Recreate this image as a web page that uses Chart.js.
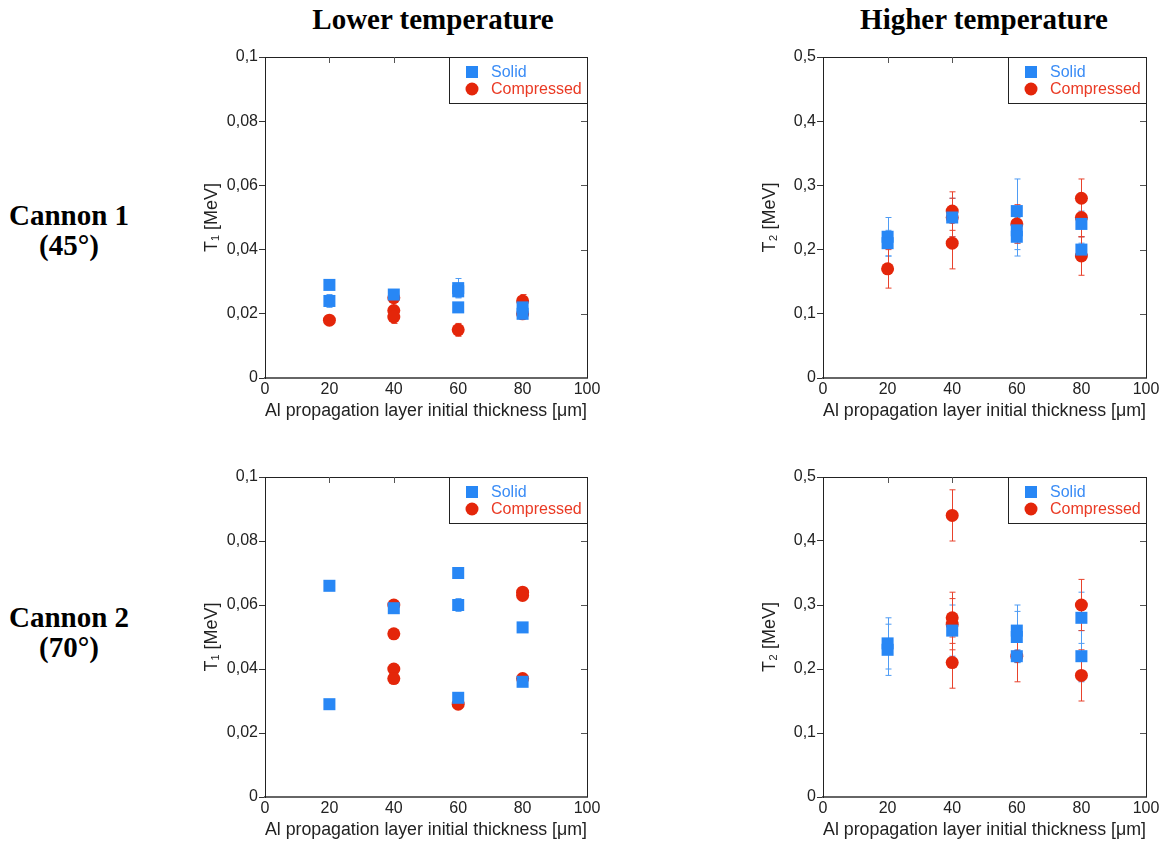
<!DOCTYPE html>
<html>
<head>
<meta charset="utf-8">
<script src="https://cdn.jsdelivr.net/npm/chart.js@4"></script>
<style>
  body { margin: 0; background: #fff; width: 1170px; height: 841px; position: relative; overflow: hidden; }
  canvas { position: absolute; }
  .head { position: absolute; font-family: "Liberation Serif", "Times New Roman", serif; font-weight: bold; font-size: 29px; line-height: 30px; color: #000; text-align: center; white-space: nowrap; }
</style>
</head>
<body>
<div class="head" style="left:233px; top:4px; width:400px;">Lower temperature</div>
<div class="head" style="left:784px; top:4px; width:400px;">Higher temperature</div>
<div class="head" style="left:-31px; top:200px; width:200px;">Cannon 1<br>(45°)</div>
<div class="head" style="left:-31px; top:602px; width:200px;">Cannon 2<br>(70°)</div>

<canvas id="c1low" width="412" height="379" style="left:195px; top:45px;"></canvas>
<canvas id="c1high" width="413" height="379" style="left:753px; top:45px;"></canvas>
<canvas id="c2low" width="412" height="378" style="left:195px; top:465px;"></canvas>
<canvas id="c2high" width="413" height="378" style="left:753px; top:465px;"></canvas>

<script>
// tick values
const xTicks = [0, 20, 40, 60, 80, 100];
const xLabel = 'Al propagation layer initial thickness [\u03bcm]';
const seriesNames = ['Solid', 'Compressed'];

// Cannon 1 (45°) - lower temperature T1
const c1LowSolidX = [20, 20, 40, 60, 60, 60, 80, 80];
const c1LowSolidY = [0.029, 0.024, 0.026, 0.028, 0.027, 0.022, 0.022, 0.020];
const c1LowSolidErr = [0.001, 0.002, 0.001, 0.003, 0.002, 0.001, 0.002, 0.001];
const c1LowCompX = [20, 40, 40, 40, 60, 80, 80];
const c1LowCompY = [0.018, 0.025, 0.021, 0.019, 0.015, 0.024, 0.020];
const c1LowCompErr = [0.001, 0.001, 0.001, 0.002, 0.002, 0.002, 0.001];

// Cannon 1 (45°) - higher temperature T2
const c1HighSolidX = [20, 20, 40, 60, 60, 60, 80, 80];
const c1HighSolidY = [0.22, 0.21, 0.25, 0.26, 0.23, 0.22, 0.24, 0.20];
const c1HighSolidErr = [0.03, 0.02, 0.03, 0.05, 0.03, 0.03, 0.02, 0.01];
const c1HighCompX = [20, 40, 40, 40, 60, 80, 80, 80];
const c1HighCompY = [0.17, 0.26, 0.25, 0.21, 0.24, 0.28, 0.25, 0.19];
const c1HighCompErr = [0.03, 0.03, 0.03, 0.04, 0.03, 0.03, 0.03, 0.03];

// Cannon 2 (70°) - lower temperature T1
const c2LowSolidX = [20, 20, 40, 60, 60, 60, 80, 80];
const c2LowSolidY = [0.066, 0.029, 0.059, 0.070, 0.060, 0.031, 0.053, 0.036];
const c2LowSolidErr = [0.001, 0.001, 0.001, 0.001, 0.002, 0.001, 0.001, 0.001];
const c2LowCompX = [40, 40, 40, 40, 60, 80, 80, 80];
const c2LowCompY = [0.060, 0.051, 0.040, 0.037, 0.029, 0.064, 0.063, 0.037];
const c2LowCompErr = [0.001, 0.001, 0.001, 0.001, 0.001, 0.001, 0.001, 0.001];

// Cannon 2 (70°) - higher temperature T2
const c2HighSolidX = [20, 20, 40, 60, 60, 60, 80, 80];
const c2HighSolidY = [0.24, 0.23, 0.26, 0.26, 0.25, 0.22, 0.28, 0.22];
const c2HighSolidErr = [0.04, 0.04, 0.04, 0.04, 0.04, 0.01, 0.04, 0.04];
const c2HighCompX = [40, 40, 40, 40, 60, 80, 80];
const c2HighCompY = [0.44, 0.28, 0.27, 0.21, 0.22, 0.30, 0.19];
const c2HighCompErr = [0.04, 0.04, 0.04, 0.04, 0.04, 0.04, 0.04];

const BLUE = '#2887f5';
const RED = '#e4260a';
const FONT = '"Liberation Sans", Arial, sans-serif';

// vertical error bars, drawn under the markers
const errorBars = {
  id: 'errorBars',
  beforeDatasetsDraw(chart) {
    const ctx = chart.ctx;
    const y = chart.scales.y;
    chart.data.datasets.forEach((ds, di) => {
      const meta = chart.getDatasetMeta(di);
      ctx.save();
      ctx.strokeStyle = ds.errorColor;
      ctx.lineWidth = 1;
      meta.data.forEach((pt, i) => {
        const v = ds.data[i].y, e = ds.errors[i];
        const t = y.getPixelForValue(v + e), b = y.getPixelForValue(v - e);
        const px = Math.round(pt.x) + 0.5;
        ctx.beginPath();
        ctx.moveTo(px, t); ctx.lineTo(px, b);
        ctx.moveTo(px - 3, t); ctx.lineTo(px + 3, t);
        ctx.moveTo(px - 3, b); ctx.lineTo(px + 3, b);
        ctx.stroke();
      });
      ctx.restore();
    });
  }
};

// top/right frame with inward ticks, plus boxed legend
const frameAndLegend = {
  id: 'frameAndLegend',
  afterDraw(chart) {
    const ctx = chart.ctx;
    const a = chart.chartArea;
    const xs = chart.scales.x, ys = chart.scales.y;
    ctx.save();
    ctx.strokeStyle = '#222';
    ctx.lineWidth = 1;
    ctx.beginPath();
    ctx.moveTo(a.left, a.top + 0.5); ctx.lineTo(a.right + 0.5, a.top + 0.5);
    ctx.lineTo(a.right + 0.5, a.bottom);
    ctx.stroke();
    ctx.strokeStyle = '#555';
    ctx.beginPath();
    xs.ticks.forEach(t => {
      const px = Math.round(xs.getPixelForValue(t.value)) + 0.5;
      if (px > a.left + 2 && px < a.right - 2) { ctx.moveTo(px, a.top); ctx.lineTo(px, a.top + 6); }
    });
    ys.ticks.forEach(t => {
      const py = Math.round(ys.getPixelForValue(t.value)) + 0.5;
      if (py > a.top + 2 && py < a.bottom - 2) { ctx.moveTo(a.right, py); ctx.lineTo(a.right - 6, py); }
    });
    ctx.stroke();

    // legend
    const bx = a.right - 138, by = a.top, bw = 138, bh = 46;
    ctx.fillStyle = '#fff';
    ctx.fillRect(bx, by, bw, bh);
    ctx.strokeStyle = '#222';
    ctx.strokeRect(Math.round(bx) + 0.5, by + 0.5, bw, bh);
    const textColors = ['#3a8cf6', '#ea3a24'];
    chart.data.datasets.forEach((ds, i) => {
      const cy = by + 15 + i * 17;
      ctx.fillStyle = ds.backgroundColor;
      ctx.beginPath();
      if (ds.pointStyle === 'rect') {
        const s = ds.pointRadius / Math.SQRT2;
        ctx.rect(bx + 23 - s, cy - s, 2 * s, 2 * s);
      } else {
        ctx.arc(bx + 23, cy, ds.pointRadius, 0, Math.PI * 2);
      }
      ctx.fill();
      ctx.fillStyle = textColors[i];
      ctx.font = '16px ' + FONT;
      ctx.textBaseline = 'middle';
      ctx.textAlign = 'left';
      ctx.fillText(ds.label, bx + 42, cy + 1);
    });
    ctx.restore();
  }
};

function points(xs, ys) {
  return xs.map((x, i) => ({ x: x, y: ys[i] }));
}

function fmt(v) {
  if (v === 0) return '0';
  return String(parseFloat(v.toFixed(3))).replace('.', ',');
}

function makePanel(id, yMax, yTitle, sx, sy, se, cx, cy, ce) {
  new Chart(document.getElementById(id), {
    type: 'scatter',
    data: {
      datasets: [
        {
          label: seriesNames[0], data: points(sx, sy), errors: se,
          pointStyle: 'rect', pointRadius: 8.5, pointHoverRadius: 8.5,
          backgroundColor: BLUE, borderWidth: 0, errorColor: '#4f9cf4'
        },
        {
          label: seriesNames[1], data: points(cx, cy), errors: ce,
          pointStyle: 'circle', pointRadius: 6.5, pointHoverRadius: 6.5,
          backgroundColor: RED, borderWidth: 0, errorColor: '#e8422c'
        }
      ]
    },
    options: {
      responsive: false,
      animation: false,
      events: [],
      layout: { padding: { top: 12, right: 20, left: 0, bottom: 0 } },
      plugins: { legend: { display: false }, tooltip: { enabled: false } },
      scales: {
        x: {
          type: 'linear', min: 0, max: 100,
          afterBuildTicks: s => { s.ticks = xTicks.map(v => ({ value: v })); },
          afterFit: s => { s.height = 46; },
          grid: { display: true, drawOnChartArea: false, drawTicks: false },
          border: { display: true, color: '#666', width: 2 },
          ticks: { padding: 2, color: '#222', font: { family: FONT, size: 16 }, maxRotation: 0 },
          title: { display: true, text: xLabel, color: '#222', font: { family: FONT, size: 18 }, padding: { top: 0, bottom: 2 } }
        },
        y: {
          type: 'linear', min: 0, max: yMax,
          ticks: {
            stepSize: yMax / 5, padding: 1, color: '#222',
            font: { family: FONT, size: 16 }, callback: v => fmt(v)
          },
          afterFit: s => { s.width = 70; },
          grid: { display: true, drawOnChartArea: false, drawTicks: true, tickLength: 6, color: '#333' },
          border: { display: true, color: '#222', width: 1 },
          title: { display: true, text: yTitle, color: '#222', font: { family: FONT, size: 18 }, padding: { top: 6, bottom: 0 } }
        }
      }
    },
    plugins: [errorBars, frameAndLegend]
  });
}

makePanel('c1low', 0.1, 'T\u2081 [MeV]', c1LowSolidX, c1LowSolidY, c1LowSolidErr, c1LowCompX, c1LowCompY, c1LowCompErr);
makePanel('c1high', 0.5, 'T\u2082 [MeV]', c1HighSolidX, c1HighSolidY, c1HighSolidErr, c1HighCompX, c1HighCompY, c1HighCompErr);
makePanel('c2low', 0.1, 'T\u2081 [MeV]', c2LowSolidX, c2LowSolidY, c2LowSolidErr, c2LowCompX, c2LowCompY, c2LowCompErr);
makePanel('c2high', 0.5, 'T\u2082 [MeV]', c2HighSolidX, c2HighSolidY, c2HighSolidErr, c2HighCompX, c2HighCompY, c2HighCompErr);
</script>
</body>
</html>
